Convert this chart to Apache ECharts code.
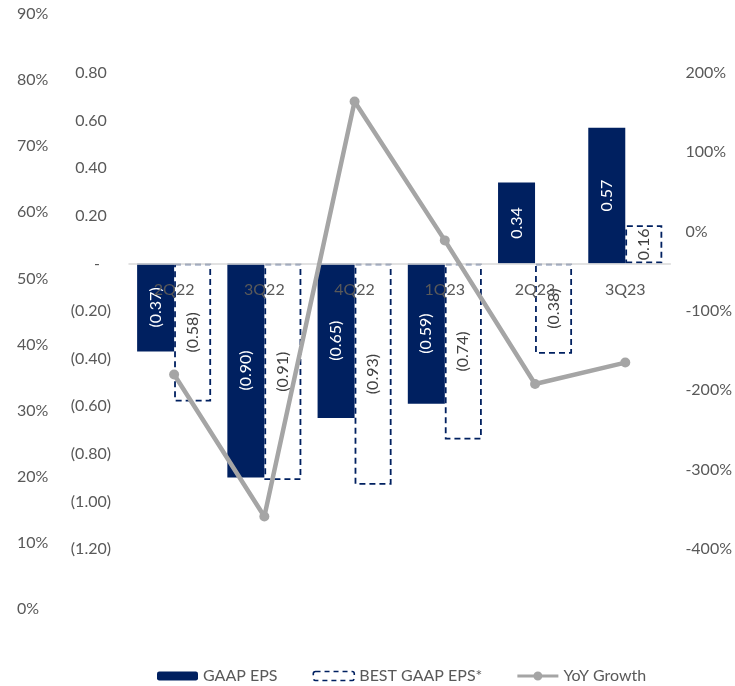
<!DOCTYPE html>
<html>
<head>
<meta charset="utf-8">
<script src="https://cdn.jsdelivr.net/npm/echarts@6/dist/echarts.min.js"></script>
<style>html,body{margin:0;padding:0;background:#fff}#c{width:735px;height:686px}</style>
</head>
<body>
<div id="c"></div>
<script>
var categories = ['2Q22', '3Q22', '4Q22', '1Q23', '2Q23', '3Q23'];
var gaapEps = [-0.37, -0.90, -0.65, -0.59, 0.34, 0.57];
var bestGaapEps = [-0.58, -0.91, -0.93, -0.74, -0.38, 0.16];
var yoyGrowth = [-180, -359, 164, -11, -192, -165];

var FONT = 'Lato';
var GRAY = '#595959';
var NAVY = '#002060';

function fmtEps(v) {
  var r = Math.round(v * 100) / 100;
  if (Math.abs(r) < 1e-9) return '{z|-}';
  if (r > 0) return r.toFixed(2) + ' ';
  return '(' + Math.abs(r).toFixed(2) + ')';
}
function fmtLabel(v) {
  if (v > 0) return v.toFixed(2);
  return '(' + Math.abs(v).toFixed(2) + ')';
}

var chart = echarts.init(document.getElementById('c'));
chart.setOption({
  animation: false,
  textStyle: { fontFamily: FONT },
  grid: [
    { left: 129, right: 62, top: 14, bottom: 77 },
    { left: 129, right: 62, top: 73, bottom: 137 }
  ],
  legend: {
    data: [
      { name: 'GAAP EPS' },
      { name: 'BEST GAAP EPS*', itemStyle: { color: '#ffffff', borderColor: NAVY, borderWidth: 1.6, borderType: [5, 4] } },
      { name: 'YoY Growth',
        icon: 'path://M0,3 H41 V6 H0 Z M20.5,0 A4.5,4.5 0 1 1 20.49,0 Z',
        itemStyle: { color: '#A5A5A5', borderWidth: 0 } }
    ],
    left: 152,
    top: 663,
    itemWidth: 41,
    itemHeight: 9,
    itemGap: 35,
    textStyle: { color: GRAY, fontSize: 16, fontFamily: FONT }
  },
  xAxis: [
    { type: 'category', gridIndex: 0, data: categories, show: false },
    {
      type: 'category', gridIndex: 1, data: categories,
      offset: -285.6,
      z: 20,
      axisLine: { onZero: false, lineStyle: { color: '#D9D9D9', width: 1.5 } },
      axisTick: { show: false },
      axisLabel: { color: GRAY, fontSize: 16, margin: 18, fontFamily: FONT }
    }
  ],
  yAxis: [
    {
      type: 'value', gridIndex: 0, min: 0, max: 90, interval: 10,
      splitLine: { show: false }, axisLine: { show: false }, axisTick: { show: false },
      axisLabel: { color: GRAY, fontSize: 16, align: 'left', margin: 112, fontFamily: FONT,
        formatter: function (v) { return Math.round(v) + '%'; } }
    },
    {
      type: 'value', gridIndex: 1, min: -1.2, max: 0.8, interval: 0.2,
      splitLine: { show: false }, axisLine: { show: false }, axisTick: { show: false },
      axisLabel: { color: GRAY, fontSize: 16, margin: 18, fontFamily: FONT,
        formatter: fmtEps,
        rich: { z: { color: GRAY, fontSize: 16, fontFamily: FONT, padding: [0, 11, 0, 0] } } }
    },
    {
      type: 'value', gridIndex: 1, position: 'right', min: -400, max: 200, interval: 100,
      splitLine: { show: false }, axisLine: { show: false }, axisTick: { show: false },
      axisLabel: { color: GRAY, fontSize: 16, margin: 15, fontFamily: FONT,
        formatter: function (v) { return Math.round(v) + '%'; } }
    }
  ],
  series: [
    { type: 'line', name: 'dummy', xAxisIndex: 0, yAxisIndex: 0, data: [], silent: true },
    {
      type: 'bar', name: 'GAAP EPS', xAxisIndex: 1, yAxisIndex: 1, data: gaapEps,
      barWidth: 37, barGap: '0%',
      itemStyle: { color: NAVY },
      label: { show: true, position: 'inside', rotate: 90, color: '#ffffff', fontSize: 16, fontFamily: FONT,
        formatter: function (p) { return fmtLabel(p.value); } }
    },
    {
      type: 'bar', name: 'BEST GAAP EPS*', xAxisIndex: 1, yAxisIndex: 1, data: bestGaapEps,
      barWidth: 37, barGap: '0%',
      itemStyle: { color: '#ffffff', borderColor: NAVY, borderWidth: 1.8, borderType: [6, 4] },
      label: { show: true, position: 'inside', rotate: 90, color: '#404040', fontSize: 16, fontFamily: FONT,
        formatter: function (p) { return fmtLabel(p.value); } }
    },
    {
      type: 'line', name: 'YoY Growth', xAxisIndex: 1, yAxisIndex: 2, data: yoyGrowth,
      z: 30,
      symbol: 'circle', symbolSize: 10,
      lineStyle: { color: '#A5A5A5', width: 4.5 },
      itemStyle: { color: '#A5A5A5' }
    }
  ]
});
</script>
</body>
</html>
